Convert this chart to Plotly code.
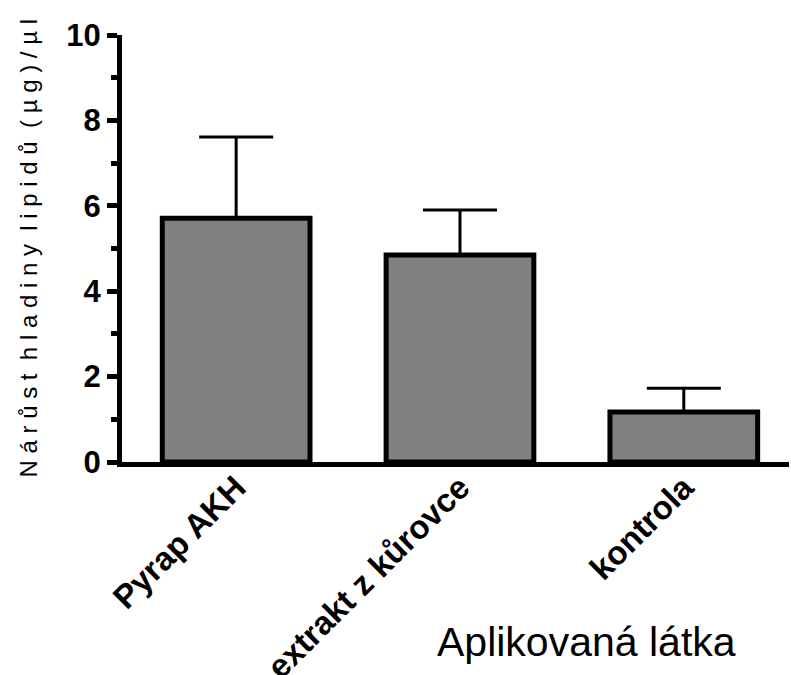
import plotly.graph_objects as go

categories = ["Pyrap AKH", "extrakt z kůrovce", "kontrola"]
means = [5.71, 4.85, 1.17]
err_up = [1.90, 1.05, 0.56]
y_ticks = [0, 2, 4, 6, 8, 10]

fig = go.Figure()
fig.add_trace(go.Bar(
    x=categories, y=means,
    width=0.66,
    marker=dict(color="#808080", line=dict(color="black", width=5)),
    error_y=dict(type="data", symmetric=False, array=err_up,
                 arrayminus=[0] * len(means),
                 color="black", thickness=3, width=37),
))

words = ["Nárůst", "hladiny", "lipidů", "(µg)/µl"]
ytitle = "  ".join(" ".join(list(w)) for w in words)

pw = 791 - 122 - 2
ph = 675 - 35 - 213

fig.update_layout(
    width=791, height=675,
    margin=dict(l=122, r=2, t=35, b=213),
    plot_bgcolor="white", paper_bgcolor="white",
    showlegend=False,
    font=dict(family="Liberation Sans, Arial", color="black"),
    xaxis=dict(
        range=[-0.51, 2.47], automargin=False,
        showline=True, linecolor="black", linewidth=5,
        ticks="", tickangle=-45, ticklabelstandoff=-12,
        tickfont=dict(size=33, family="Liberation Sans, Arial", weight="bold"),
        showgrid=False, zeroline=False,
    ),
    yaxis=dict(
        range=[0, 10], automargin=False,
        tickvals=y_ticks,
        showline=True, linecolor="black", linewidth=5,
        ticks="outside", ticklen=10, tickwidth=5, tickcolor="black",
        minor=dict(dtick=1, ticks="outside", ticklen=6, tickwidth=5, tickcolor="black"),
        tickfont=dict(size=31, family="Liberation Sans, Arial", weight="bold"),
        showgrid=False, zeroline=False,
    ),
    annotations=[
        dict(text=ytitle, textangle=-90, x=(28 - 122) / pw, xref="paper", y=0.5, yref="paper",
             showarrow=False, font=dict(size=24, family="Liberation Sans Narrow, Liberation Sans"),
             xanchor="center", yanchor="middle"),
        dict(text="Aplikovaná látka", x=(586 - 122) / pw, y=(675 - 213 - 642) / ph,
             xref="paper", yref="paper", xanchor="center", yanchor="middle",
             showarrow=False, font=dict(size=41, family="Liberation Sans, Arial")),
    ],
)

fig.write_html("out.html")
